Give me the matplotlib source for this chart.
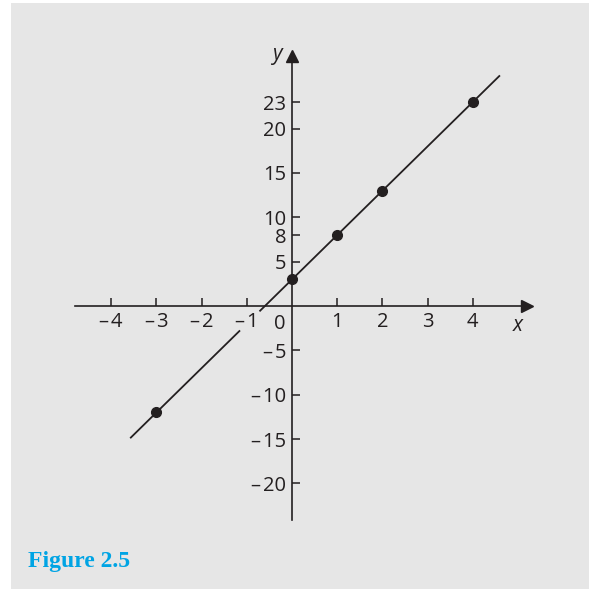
import matplotlib
matplotlib.use("Agg")
import matplotlib.pyplot as plt
from matplotlib.patches import Rectangle

# Data
points_x = [-3, 0, 1, 2, 4]
points_y = [-12, 3, 8, 13, 23]
# line segments (drawn with a gap near the -1 label)
seg1_x = [-3.58, -1.15]
seg1_y = [-14.9, -2.75]
seg2_x = [-0.72, 4.6]
seg2_y = [-0.6, 26.0]
xticks = [-4, -3, -2, -1, 1, 2, 3, 4]
yticks = [-20, -15, -10, -5, 5, 8, 10, 15, 20, 23]

plt.rcParams['font.family'] = ['Open Sans', 'DejaVu Sans']

def fmt(v):
    return f"\u2013\u200a{abs(v)}" if v < 0 else str(v)

fig = plt.figure(figsize=(5.89, 5.89), dpi=100)
fig.patch.set_facecolor('white')
bg = Rectangle((11/589, 0), 1 - 11/589, 1 - 3/589,
               transform=fig.transFigure, facecolor='#e6e6e6',
               edgecolor='none', zorder=-10)
fig.add_artist(bg)

ax = fig.add_axes([0, 0, 1, 1])
ax.set_zorder(5)
ax.set_facecolor('none')
ax.set_xlim(-6.46, 6.57)
ax.set_ylim(-31.9, 34.5)

axc = '#231f20'
for s in ['top', 'right']:
    ax.spines[s].set_visible(False)
ax.spines['left'].set_position(('data', 0))
ax.spines['bottom'].set_position(('data', 0))
ax.spines['bottom'].set_bounds(-4.8, 5.15)
ax.spines['left'].set_bounds(-24.1, 28.0)
for s in ['left', 'bottom']:
    ax.spines[s].set_color(axc)
    ax.spines[s].set_linewidth(1.2)

ax.set_xticks(xticks)
ax.set_xticklabels([fmt(v) for v in xticks])
ax.set_yticks(yticks)
ax.set_yticklabels([fmt(v) for v in yticks])
ax.tick_params(axis='both', direction='in', length=6, width=1.1, color=axc,
               labelsize=14.5, labelcolor=axc)
ax.tick_params(axis='x', pad=4)
ax.tick_params(axis='y', pad=4)

# arrowheads
ax.plot([5.2], [0], marker='>', markersize=9, color=axc, clip_on=False)
ax.plot([0], [28.2], marker='^', markersize=9, color=axc, clip_on=False)

ax.text(-0.27, -0.9, "0", ha='center', va='top', fontsize=14.5, color=axc)
ax.text(5.0, -1.0, "x", ha='center', va='top', fontsize=15, style='italic', color=axc)
ax.text(-0.33, 28.3, "y", ha='center', va='center', fontsize=15, style='italic', color=axc)

ax.plot(seg1_x, seg1_y, color=axc, lw=1.3, solid_capstyle='butt')
ax.plot(seg2_x, seg2_y, color=axc, lw=1.3, solid_capstyle='butt')
ax.plot(points_x, points_y, 'o', color=axc, markersize=7, zorder=5)

fig.text(28/589, 1 - 561/589, "Figure 2.5", family='Liberation Serif',
         fontweight='bold', fontsize=17, color='#00a4e4', ha='left', va='center')

fig.savefig('out.png', dpi=100)
